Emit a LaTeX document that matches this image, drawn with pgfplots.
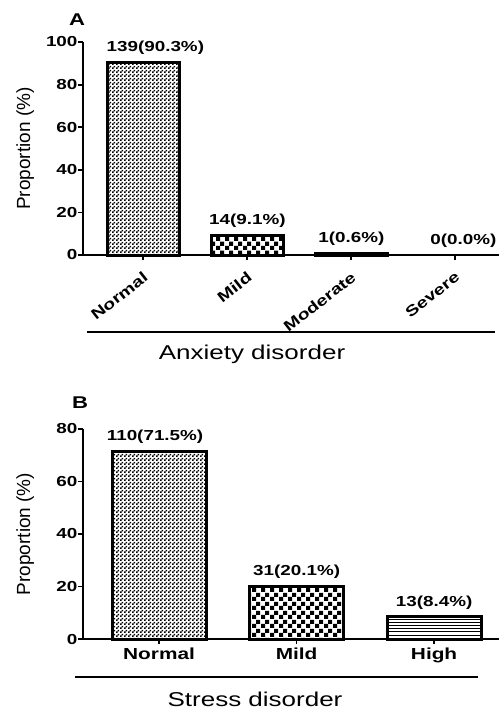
\documentclass[border=0pt]{standalone}
\usepackage{fontspec}
\setmainfont{Liberation Sans}
\newfontfamily\wide{Liberation Sans}[FakeStretch=1.3]
\usepackage{pgfplots}
\pgfplotsset{compat=1.18}
\usetikzlibrary{patterns}

\pgfdeclarepatternformonly{finecheck}{\pgfpointorigin}{\pgfpoint{4pt}{4pt}}{\pgfpoint{4pt}{4pt}}{%
 \pgfpathrectangle{\pgfpointorigin}{\pgfpoint{2pt}{2pt}}%
 \pgfpathrectangle{\pgfpoint{2pt}{2pt}}{\pgfpoint{2pt}{2pt}}%
 \pgfusepath{fill}}
\pgfdeclarepatternformonly{coarsecheck}{\pgfpointorigin}{\pgfpoint{9pt}{9pt}}{\pgfpoint{9pt}{9pt}}{%
 \pgfpathrectangle{\pgfpointorigin}{\pgfpoint{4.5pt}{4.5pt}}%
 \pgfpathrectangle{\pgfpoint{4.5pt}{4.5pt}}{\pgfpoint{4.5pt}{4.5pt}}%
 \pgfusepath{fill}}
\pgfdeclarepatternformonly{hlinesfine}{\pgfpoint{-1pt}{-1pt}}{\pgfpoint{5pt}{4pt}}{\pgfpoint{4pt}{3.2pt}}{%
 \pgfpathrectangle{\pgfpoint{-1pt}{0pt}}{\pgfpoint{6pt}{0.7pt}}%
 \pgfusepath{fill}}

\pgfplotsset{
  panel/.style={
    scale only axis,
    width=416pt,
    axis x line=bottom, axis y line=left,
    axis line style={line width=2pt,-},
    tick align=outside,
    major tick length=5pt,
    tick style={line width=1.8pt, black},
    ymin=0,
    xtick={0,1,2,3},
    /pgf/number format/assume math mode=true,
    y tick label style={font=\wide\bfseries\fontsize{14.5}{14.5}\selectfont, xshift=3pt},
    ylabel={Proportion (\%)},
    ylabel style={at={(axis description cs:-0.139,0.5)}, anchor=center, font=\fontsize{19}{19}\selectfont},
    every node near coord/.append style={font=\wide\bfseries\fontsize{14.5}{14.5}\selectfont, anchor=south, yshift=3pt, black},
    clip=false,
  },
  mybar/.style={ybar, bar shift=0pt, draw=black, line width=3pt, nodes near coords, point meta=explicit symbolic},
}

\begin{document}
\begin{tikzpicture}
\useasboundingbox (0,0) rectangle (499pt,-709pt);

% Panel A
\begin{axis}[panel,
  at={(83pt,-255pt)}, anchor=south west,
  height=213pt,
  xmin=-0.58, xmax=3.42,
  ymax=100, ytick={0,20,40,60,80,100},
  xticklabels={Normal,Mild,Moderate,Severe},
  x tick label style={font=\wide\bfseries\fontsize{15}{15}\selectfont, rotate=38, anchor=north east, xshift=-4pt, yshift=-4.5pt},
]
\addplot[mybar, bar width=72pt, pattern=finecheck, every node near coord/.append style={xshift=12pt}] coordinates {(0,90.3) [139(90.3\%)]};
\addplot[mybar, bar width=72pt, pattern=coarsecheck] coordinates {(1,9.1) [14(9.1\%)]};
\addplot[mybar, bar width=72pt, pattern=finecheck] coordinates {(2,0.6) [1(0.6\%)]};
\addplot[mybar, bar width=72pt, draw=none, every node near coord/.append style={xshift=8pt}] coordinates {(3,0) [0(0.0\%)]};
\end{axis}
\draw[line width=2.5pt] (87pt,-332pt) -- (495pt,-332pt);
\node[font=\wide\fontsize{20}{20}\selectfont] at (252pt,-354pt) {Anxiety disorder};
\node[font=\wide\bfseries\fontsize{17}{17}\selectfont] at (77pt,-20pt) {A};

% Panel B
\begin{axis}[panel,
  at={(83pt,-639pt)}, anchor=south west,
  height=210pt,
  xmin=-0.553, xmax=2.472,
  ymax=80, ytick={0,20,40,60,80},
  xtick={0,1,2},
  xticklabels={Normal,Mild,High},
  x tick label style={font=\wide\bfseries\fontsize{16}{16}\selectfont},
]
\addplot[mybar, bar width=94pt, pattern=finecheck, every node near coord/.append style={xshift=-4pt}] coordinates {(0,71.5) [110(71.5\%)]};
\addplot[mybar, bar width=94pt, pattern=coarsecheck] coordinates {(1,20.1) [31(20.1\%)]};
\addplot[mybar, bar width=94pt, pattern=hlinesfine] coordinates {(2,8.4) [13(8.4\%)]};
\end{axis}
\draw[line width=2.5pt] (75pt,-677pt) -- (478pt,-677pt);
\node[font=\wide\fontsize{20}{20}\selectfont] at (255pt,-699pt) {Stress disorder};
\node[font=\wide\bfseries\fontsize{17}{17}\selectfont] at (80pt,-403pt) {B};
\end{tikzpicture}
\end{document}
